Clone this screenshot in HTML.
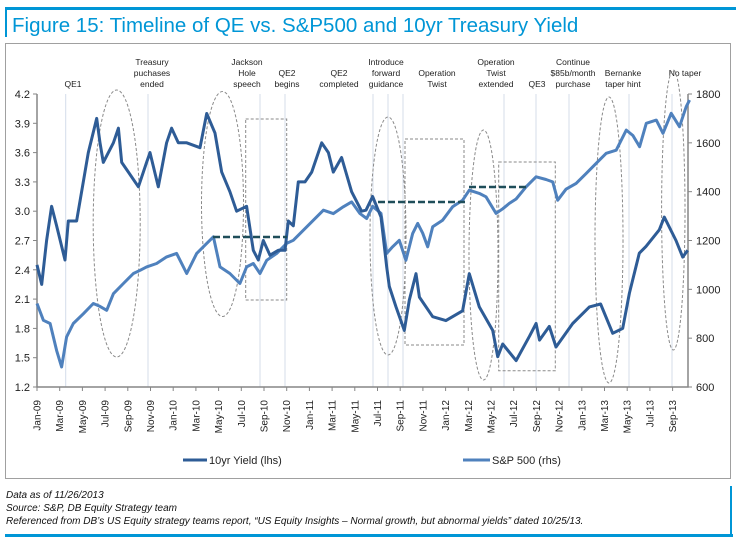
<!DOCTYPE html>
<html><head><meta charset="utf-8"><style>
html,body{margin:0;padding:0;background:#fff;}
svg{display:block;font-family:"Liberation Sans",sans-serif;}
</style></head><body>
<svg id="chart" width="736" height="547" viewBox="0 0 736 547">
<rect x="5" y="7" width="731" height="3" fill="#0096d6"/>
<rect x="5" y="7" width="2" height="30" fill="#0096d6"/>
<text x="12" y="32" font-size="20.5" fill="#0096d6">Figure 15: Timeline of QE vs. S&amp;P500 and 10yr Treasury Yield</text>
<rect x="5.5" y="43.5" width="725" height="435" fill="none" stroke="#a0a0a0"/>
<g id="annot"></g>
<g id="plot"></g>
<g>
<g><line x1="183" y1="460" x2="207" y2="460" stroke="#2e5c96" stroke-width="3"/><text x="209" y="464" font-size="11" fill="#222">10yr Yield (lhs)</text></g>
<g><line x1="463" y1="460" x2="490" y2="460" stroke="#4f81bd" stroke-width="3"/><text x="492" y="464" font-size="11" fill="#222">S&amp;P 500 (rhs)</text></g>
</g>
<g font-size="10" font-style="italic" fill="#111">
<text x="6" y="498">Data as of 11/26/2013</text>
<text x="6" y="511">Source: S&amp;P, DB Equity Strategy team</text>
<text x="6" y="524">Referenced from DB’s US Equity strategy teams report, “US Equity Insights – Normal growth, but abnormal yields” dated 10/25/13.</text>
</g>
<rect x="5" y="534" width="728" height="3" fill="#0096d6"/>
<rect x="730" y="486" width="2" height="51" fill="#0096d6"/>
</svg>
<script>
// month index since Jan-2009 (decimal) and values
const yieldMonths=[0,0.41,0.85,1.29,1.73,2.47,2.76,3.49,4.08,4.52,5.26,5.55,5.84,6.73,7.17,7.46,8.05,8.93,9.66,9.96,10.69,11.42,11.86,12.45,13.19,14.36,14.95,15.68,16.27,17.0,17.59,18.47,19.06,19.5,19.94,20.53,21.26,21.85,22.14,22.58,23.02,23.61,24.2,25.08,25.67,26.11,26.84,27.72,28.6,28.99,29.57,30.31,30.81,31.04,31.63,32.36,32.8,33.39,33.69,34.86,36.03,37.5,38.09,38.97,40.15,40.59,41.03,42.21,43.39,43.97,44.27,45.14,45.73,47.2,48.67,49.66,50.72,51.6,52.19,53.07,53.66,54.83,55.27,56.3,56.89,57.33];
const yieldValues=[2.45,2.25,2.7,3.05,2.85,2.5,2.9,2.9,3.3,3.6,3.95,3.7,3.5,3.7,3.85,3.5,3.4,3.25,3.5,3.6,3.25,3.7,3.85,3.7,3.7,3.65,4.0,3.8,3.4,3.2,3.0,3.05,2.6,2.5,2.7,2.55,2.6,2.6,2.9,2.85,3.3,3.3,3.4,3.7,3.6,3.4,3.55,3.2,3.0,3.01,3.15,2.94,2.43,2.23,2.02,1.78,2.09,2.36,2.12,1.92,1.88,1.98,2.36,2.02,1.78,1.51,1.64,1.47,1.72,1.85,1.68,1.82,1.61,1.85,2.02,2.05,1.75,1.8,2.16,2.57,2.64,2.81,2.94,2.7,2.53,2.6];
const spMonths=[0,0.56,1.15,1.73,2.17,2.61,3.2,4.08,4.96,5.55,6.14,6.73,7.61,8.49,9.08,9.66,10.54,11.42,12.3,13.19,14.07,14.95,15.54,16.12,17.0,17.88,18.47,19.06,19.65,20.24,21.12,21.99,22.58,23.47,24.35,25.23,26.11,26.99,27.72,28.46,29.05,29.57,30.31,30.81,31.33,31.92,32.5,33.1,33.54,33.98,34.42,34.86,35.74,36.62,37.5,38.09,38.97,39.56,40.44,41.03,41.61,42.21,43.09,43.97,44.85,45.44,45.88,46.61,47.5,48.39,49.27,50.15,51.03,51.92,52.5,53.09,53.68,54.56,55.15,55.88,56.61,57.2,57.5];
const spValues=[942,873,860,750,682,805,860,900,942,930,914,982,1024,1065,1078,1092,1106,1133,1147,1065,1147,1188,1215,1092,1065,1024,1092,1106,1065,1119,1147,1188,1201,1242,1283,1324,1310,1338,1358,1310,1290,1340,1311,1147,1174,1201,1119,1229,1270,1230,1174,1256,1283,1338,1365,1406,1393,1379,1311,1330,1352,1370,1420,1461,1450,1440,1365,1410,1434,1475,1516,1557,1570,1652,1630,1584,1680,1693,1639,1721,1666,1748,1775];
const leftTicks=[1.2,1.5,1.8,2.1,2.4,2.7,3.0,3.3,3.6,3.9,4.2];
const rightTicks=[600,800,1000,1200,1400,1600,1800];
const xLabels=["Jan-09","Mar-09","May-09","Jul-09","Sep-09","Nov-09","Jan-10","Mar-10","May-10","Jul-10","Sep-10","Nov-10","Jan-11","Mar-11","May-11","Jul-11","Sep-11","Nov-11","Jan-12","Mar-12","May-12","Jul-12","Sep-12","Nov-12","Jan-13","Mar-13","May-13","Jul-13","Sep-13"];

const NS="http://www.w3.org/2000/svg";
const X0=37,X1=688,Y0=387,Y1=94,PXM=11.35;
const xs=m=>X0+m*PXM;
const yL=v=>Y0-(v-1.2)/3*(Y0-Y1);
const yR=v=>Y0-(v-600)/1200*(Y0-Y1);
function mk(tag,attrs,parent){const e=document.createElementNS(NS,tag);for(const k in attrs)e.setAttribute(k,attrs[k]);parent.appendChild(e);return e;}
const plot=document.getElementById('plot'),ann=document.getElementById('annot');

// event vertical lines
[65.7,148,260,285,373,388,403,504,536,569,629,672].forEach(x=>{
 const l=mk('line',{x1:x,y1:Y1,x2:x,y2:Y0,stroke:'#d4dcea','stroke-width':1},ann);
 
 
});
// annotation labels
const labs=[[73,["QE1"]],[152,["Treasury","puchases","ended"]],[247,["Jackson","Hole","speech"]],[287,["QE2","begins"]],[339,["QE2","completed"]],[386,["Introduce","forward","guidance"]],[437,["Operation","Twist"]],[496,["Operation","Twist","extended"]],[537,["QE3"]],[573,["Continue","$85b/month","purchase"]],[623,["Bernanke","taper hint"]],[685,["No taper"]]];
labs.forEach(([x,lines])=>{
 const base=lines[0]==="No taper"?73:84;
 lines.forEach((t,i)=>{
  const tx=mk('text',{x:x,y:base-(lines.length-1-i)*11+3,'font-size':8.5,'text-anchor':'middle',fill:'#222'},ann);
  tx.textContent=t;
  
  
 });
});
// ellipses & rects
[[116.7,223.5,23.5,133.5],[222.5,204,21,112.5],[388,236,18,119],[483.5,255,14.5,125],[609,240,14,143],[673.3,210,11.7,140]].forEach(([cx,cy,rx,ry])=>{
 const e=mk('ellipse',{cx,cy,rx,ry,fill:'none',stroke:'#8a8a8a','stroke-width':1,'stroke-dasharray':'3,2'},ann);
 
 
});
[[245.7,119,41,181],[405,139,59,206],[498.7,162,56.6,208.7]].forEach(([x,y,w,h])=>{
 const r=mk('rect',{x,y,width:w,height:h,fill:'none',stroke:'#8a8a8a','stroke-width':1,'stroke-dasharray':'3,2'},ann);
 
 
});

// axes
const ax=mk('path',{d:`M${X0},${Y1}V${Y0}H${X1}V${Y1}`,fill:'none',stroke:'#868686','stroke-width':1.5},plot);


leftTicks.forEach(v=>{
 const y=yL(v);
 mk('line',{x1:X0-4,y1:y,x2:X0,y2:y,stroke:'#868686'},plot);
 const t=mk('text',{x:X0-7,y:y+4,'font-size':11,'text-anchor':'end',fill:'#222'},plot);
 t.textContent=v.toFixed(1);
 
 
});
rightTicks.forEach(v=>{
 const y=yR(v);
 mk('line',{x1:X1,y1:y,x2:X1+4,y2:y,stroke:'#868686'},plot);
 const t=mk('text',{x:X1+8,y:y+4,'font-size':11,fill:'#222'},plot);
 t.textContent=v;
 
 
});
xLabels.forEach((s,i)=>{
 const x=xs(i*2);
 mk('line',{x1:x,y1:Y0,x2:x,y2:Y0+4,stroke:'#868686'},plot);
 const t=mk('text',{x:0,y:0,'font-size':10,'text-anchor':'end',fill:'#222',transform:`translate(${x+3.5},${Y0+13}) rotate(-90)`},plot);
 t.textContent=s;
 
 
});

// series
function line(ms,vs,f,color,name){
 const d=ms.map((m,i)=>(i?'L':'M')+xs(m).toFixed(1)+','+f(vs[i]).toFixed(1)).join('');
 const p=mk('path',{d,fill:'none',stroke:color,'stroke-width':3,'stroke-linejoin':'round'},plot);
 
 
}
line(spMonths,spValues,yR,'#4f81bd','sp500-line');
line(yieldMonths,yieldValues,yL,'#2e5c96','yield-line');

// dashed reference levels
[[213,287,237],[378,466,202],[469,529,187]].forEach(([a,b,y])=>{
 const l=mk('line',{x1:a,y1:y,x2:b,y2:y,stroke:'#1f4e5a','stroke-width':2.5,'stroke-dasharray':'7,3'},plot);
 
 
});
</script>
</body></html>
